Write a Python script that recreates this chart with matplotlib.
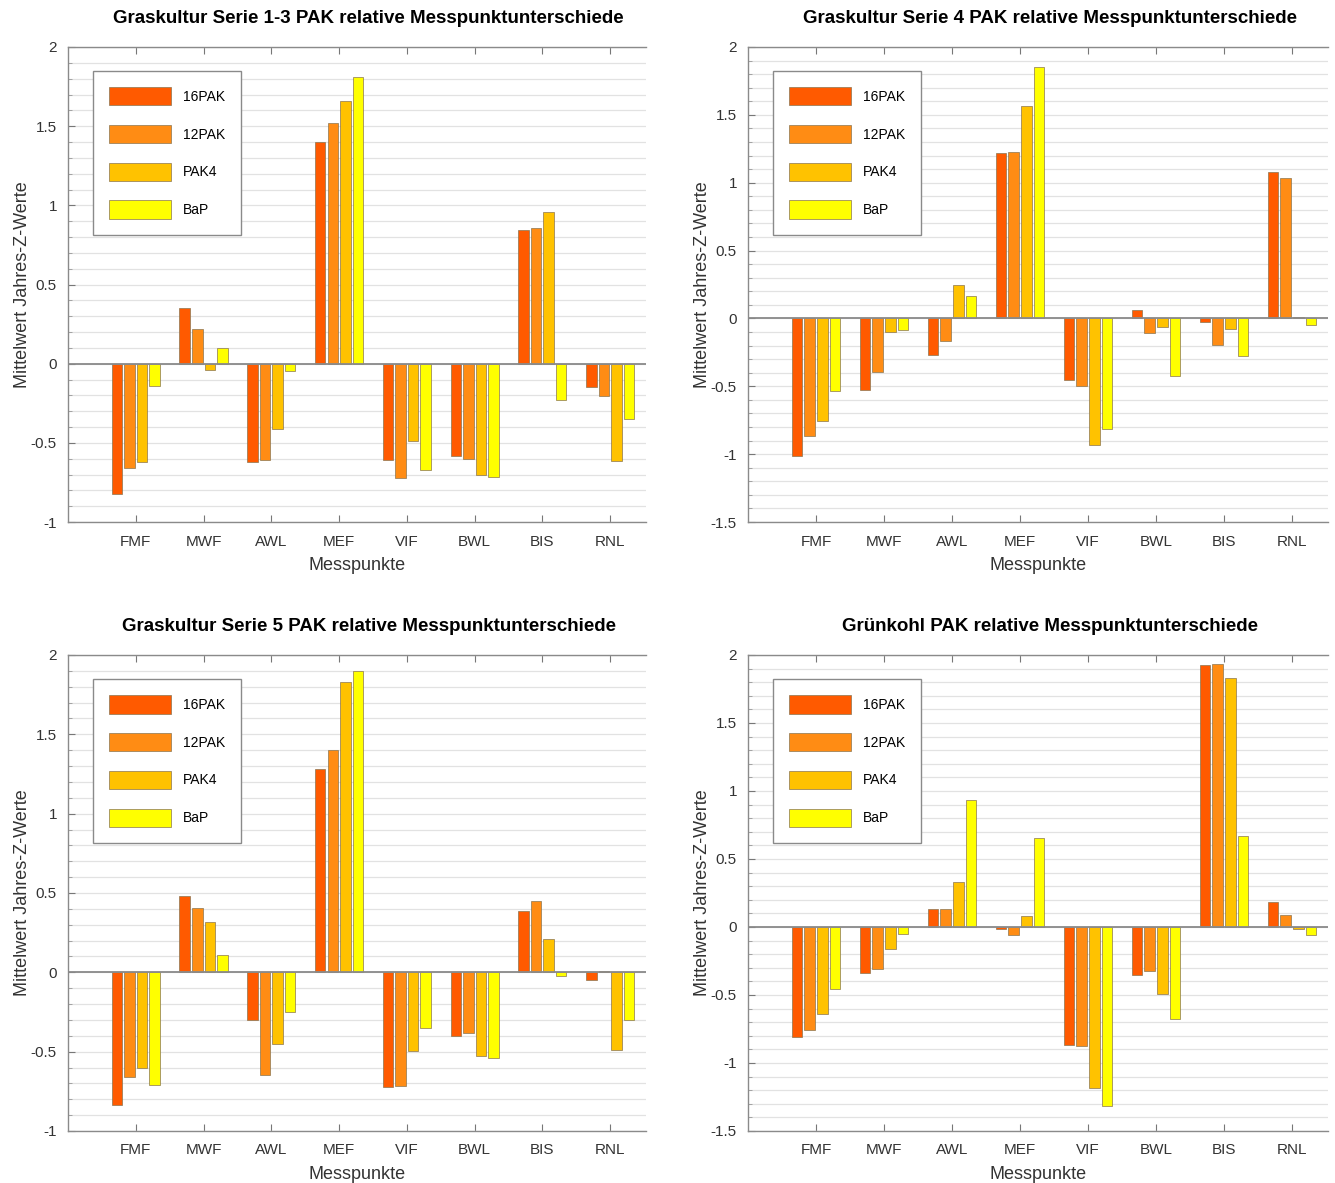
import matplotlib
matplotlib.use('Agg')
import matplotlib.pyplot as plt
import numpy as np
from matplotlib.ticker import MultipleLocator

plt.rcParams['font.family'] = ['Liberation Sans', 'DejaVu Sans']

# Messpunkte und Serien
messpunkte = ['FMF', 'MWF', 'AWL', 'MEF', 'VIF', 'BWL', 'BIS', 'RNL']
serien = ['16PAK', '12PAK', 'PAK4', 'BaP']
farben = ['#FF5A00', '#FF8C14', '#FFC200', '#FFFF00']

# Graskultur Serie 1-3
s13_16pak = [-0.82, 0.35, -0.62, 1.40, -0.61, -0.58, 0.845, -0.15]
s13_12pak = [-0.66, 0.22, -0.61, 1.52, -0.725, -0.60, 0.856, -0.205]
s13_pak4 = [-0.62, -0.04, -0.41, 1.66, -0.49, -0.705, 0.958, -0.616]
s13_bap = [-0.144, 0.10, -0.047, 1.81, -0.674, -0.714, -0.228, -0.35]

# Graskultur Serie 4
s4_16pak = [-1.01, -0.524, -0.271, 1.218, -0.456, 0.065, -0.027, 1.077]
s4_12pak = [-0.863, -0.393, -0.163, 1.229, -0.499, -0.108, -0.195, 1.036]
s4_pak4 = [-0.754, -0.098, 0.25, 1.565, -0.93, -0.062, -0.076, 0.01]
s4_bap = [-0.537, -0.084, 0.168, 1.856, -0.814, -0.423, -0.274, -0.049]

# Graskultur Serie 5
s5_16pak = [-0.837, 0.479, -0.30, 1.284, -0.722, -0.40, 0.388, -0.05]
s5_12pak = [-0.66, 0.408, -0.649, 1.404, -0.718, -0.385, 0.447, 0.009]
s5_pak4 = [-0.603, 0.319, -0.454, 1.828, -0.495, -0.528, 0.211, -0.489]
s5_bap = [-0.711, 0.112, -0.248, 1.897, -0.351, -0.537, -0.025, -0.298]

# Grünkohl
gk_16pak = [-0.81, -0.337, 0.131, -0.016, -0.864, -0.356, 1.929, 0.185]
gk_12pak = [-0.757, -0.31, 0.131, -0.056, -0.872, -0.324, 1.937, 0.091]
gk_pak4 = [-0.637, -0.16, 0.332, 0.083, -1.185, -0.49, 1.83, -0.016]
gk_bap = [-0.458, -0.048, 0.937, 0.653, -1.314, -0.677, 0.669, -0.056]

titel = ['Graskultur Serie 1-3 PAK relative Messpunktunterschiede',
         'Graskultur Serie 4 PAK relative Messpunktunterschiede',
         'Graskultur Serie 5 PAK relative Messpunktunterschiede',
         'Grünkohl PAK relative Messpunktunterschiede']
daten = [[s13_16pak, s13_12pak, s13_pak4, s13_bap],
         [s4_16pak, s4_12pak, s4_pak4, s4_bap],
         [s5_16pak, s5_12pak, s5_pak4, s5_bap],
         [gk_16pak, gk_12pak, gk_pak4, gk_bap]]
ylims = [(-1, 2), (-1.5, 2), (-1, 2), (-1.5, 2)]

W, H = 1335, 1183
fig = plt.figure(figsize=(W / 100, H / 100), dpi=100)

# Achsenpositionen in Pixeln (links, oben, rechts, unten)
boxen = [(68, 47, 646, 522), (748, 47, 1328, 522),
         (68, 655, 646, 1131), (748, 655, 1328, 1131)]

x = np.arange(1, len(messpunkte) + 1)
breite = 0.155
abstand = 0.185

for i in range(4):
    l, t, r, b = boxen[i]
    ax = fig.add_axes([l / W, 1 - b / H, (r - l) / W, (b - t) / H])
    for j, werte in enumerate(daten[i]):
        ax.bar(x + (j - 1.5) * abstand, werte, breite, color=farben[j],
               edgecolor='#8a7550', linewidth=0.5, label=serien[j], zorder=3)
    ax.axhline(0, color='#8a8a8a', linewidth=1.3, zorder=4)

    ax.set_xlim(0, 8.53)
    ax.set_ylim(*ylims[i])
    ax.set_xticks(x)
    ax.set_xticklabels(messpunkte)
    ax.yaxis.set_major_locator(MultipleLocator(0.5))
    ax.yaxis.set_minor_locator(MultipleLocator(0.1))
    ax.yaxis.set_major_formatter(matplotlib.ticker.FuncFormatter(lambda v, p: ('%g' % v)))
    ax.grid(axis='y', which='both', color='#e2e2e2', linewidth=0.9, zorder=0)
    ax.set_axisbelow(True)

    ax.tick_params(axis='x', which='both', direction='in', top=True, bottom=True,
                   length=5, color='#777777', labelsize=11, labelcolor='#333333', pad=9)
    ax.tick_params(axis='y', which='major', direction='in', length=5, color='#777777',
                   labelsize=11, labelcolor='#333333', pad=8)
    ax.tick_params(axis='y', which='minor', direction='in', length=3, color='#999999')
    for s in ['top', 'left', 'bottom']:
        ax.spines[s].set_color('#8a8a8a')
        ax.spines[s].set_linewidth(1.0)
    ax.spines['right'].set_visible(False)

    ax.set_title(titel[i], fontsize=13.5, fontweight='bold', pad=17, x=0.52)
    ax.set_xlabel('Messpunkte', fontsize=13, color='#333333', labelpad=6)
    ax.set_ylabel('Mittelwert Jahres-Z-Werte', fontsize=13, color='#333333', labelpad=0)

    leg = ax.legend(loc='upper left', bbox_to_anchor=(0.043, 0.95), fontsize=10,
                    handlelength=4.5, handleheight=1.7, labelspacing=1.38,
                    handletextpad=0.85, borderpad=1.15, borderaxespad=0,
                    fancybox=False, framealpha=1, edgecolor='#8a8a8a')
    leg.get_frame().set_linewidth(1.0)

fig.savefig('out.png', dpi=100)
